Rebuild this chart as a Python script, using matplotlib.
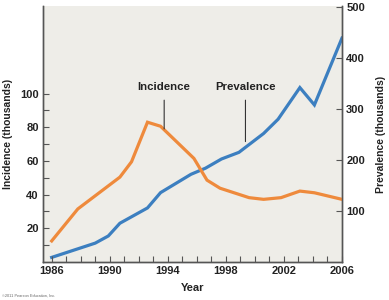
import matplotlib
matplotlib.use('Agg')
import matplotlib.pyplot as plt

plt.rcParams['font.family'] = ['Liberation Sans', 'DejaVu Sans']
plt.rcParams['font.weight'] = 'bold'

# incidence (thousands), left axis
inc_years = [1986.0, 1987.8, 1990.7, 1991.5, 1992.6, 1993.5, 1995.8, 1996.7,
             1997.6, 1999.6, 2000.6, 2001.8, 2003.1, 2004.1, 2006.0]
incidence = [12.5, 31.5, 50.4, 59.5, 83.0, 80.6, 61.5, 48.6,
             43.8, 38.2, 37.2, 38.2, 42.1, 41.1, 37.2]

# prevalence (thousands), right axis
prev_years = [1986.0, 1989.0, 1989.9, 1990.7, 1992.6, 1993.5, 1995.6, 1996.6,
              1997.7, 1998.9, 2000.6, 2001.6, 2003.1, 2004.1, 2006.0]
prevalence = [9, 37, 51, 76, 106, 136, 172, 184,
              202, 215, 252, 280, 342, 308, 439]

x_ticks = [1986, 1990, 1994, 1998, 2002, 2006]
left_ticks = [20, 40, 60, 80, 100]
right_ticks = [100, 200, 300, 400, 500]

orange = '#ee8a3c'
blue = '#3c7fc0'
axis_col = '#555555'
txt_col = '#222222'

fig = plt.figure(figsize=(3.89, 3.0), dpi=100)
ax = fig.add_axes([0.1105, 0.1267, 0.7686, 0.8533])
ax2 = ax.twinx()
ax2.set_zorder(0)
ax.set_zorder(1)
ax.patch.set_visible(False)
ax2.patch.set_visible(True)
ax2.patch.set_facecolor('#eeede8')

ax2.plot(prev_years, prevalence, color=blue, lw=2.3, solid_joinstyle='miter')
ax.plot(inc_years, incidence, color=orange, lw=2.3, solid_joinstyle='miter')

ax.set_xlim(1985.4, 2006.0)
ax.set_ylim(0, 152)
ax2.set_ylim(0, 502)

ax.set_xticks(x_ticks)
ax.set_xticks(range(1986, 2007), minor=True)
ax.set_yticks(left_ticks)
ax.set_yticks(range(10, 101, 10), minor=True)
ax2.set_yticks(right_ticks)

for a in (ax, ax2):
    a.spines['top'].set_visible(False)
    for s in ('left', 'right', 'bottom'):
        a.spines[s].set_color(axis_col)
        a.spines[s].set_linewidth(1.0)
    a.tick_params(which='both', direction='in', color=axis_col, labelsize=8,
                  labelcolor=txt_col)
    a.tick_params(which='major', length=4, width=0.8, pad=3)
    a.tick_params(which='minor', length=4, width=0.8)

ax.set_xlabel('Year', fontsize=8, fontweight='bold', color=txt_col)
ax.set_ylabel('Incidence (thousands)', fontsize=7.5, fontweight='bold', color=txt_col)
ax2.set_ylabel('Prevalence (thousands)', fontsize=7.5, fontweight='bold', color=txt_col)
ax.xaxis.set_label_coords(0.5, -0.082)
ax.yaxis.set_label_coords(-0.099, 0.5)
ax2.yaxis.set_label_coords(1.114, 0.5)

ax.annotate('Incidence', xy=(1993.75, 79), xytext=(1993.75, 104),
            ha='center', va='center', fontsize=8.2, fontweight='bold', color=txt_col,
            arrowprops=dict(arrowstyle='-', color='#333333', lw=0.8, shrinkA=4, shrinkB=0))
ax.annotate('Prevalence', xy=(1999.35, 71.5), xytext=(1999.35, 104),
            ha='center', va='center', fontsize=8.2, fontweight='bold', color=txt_col,
            arrowprops=dict(arrowstyle='-', color='#333333', lw=0.8, shrinkA=4, shrinkB=0))

fig.text(0.005, 0.012, '\u00a92011 Pearson Education, Inc.', fontsize=2.8,
         fontweight='normal', color='#666666')

fig.savefig('out.png', dpi=100)
